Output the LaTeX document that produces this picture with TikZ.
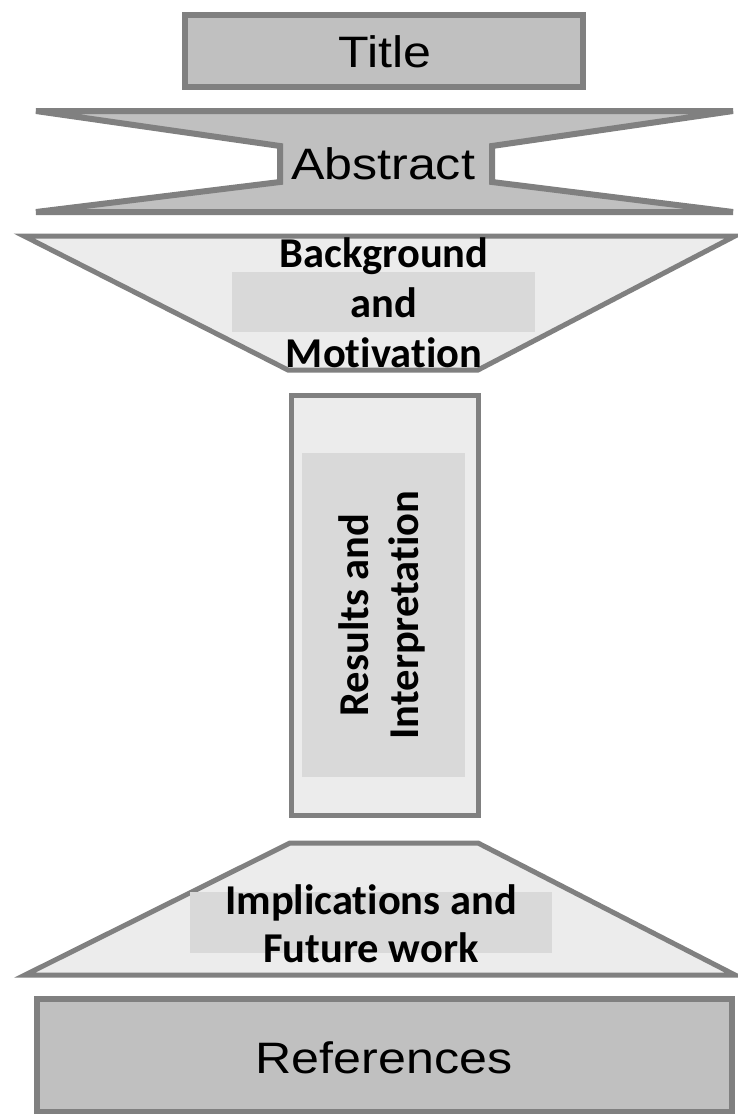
\documentclass[tikz,border=0pt]{standalone}
\usepackage{fontspec}
\setmainfont{Liberation Sans}
\newfontfamily\widesans[FakeStretch=1.14]{Liberation Sans}
\newfontfamily\calfont[Ligatures=CommonOff]{Carlito}
\definecolor{boxgray}{RGB}{192,192,192}
\definecolor{edgegray}{RGB}{128,128,128}
\definecolor{lightfill}{RGB}{236,236,236}
\definecolor{hifill}{RGB}{217,217,217}
\begin{document}
\begin{tikzpicture}[x=1pt,y=-1pt,
  darkshape/.style={fill=boxgray, draw=edgegray, line width=6pt, line join=miter},
  lightshape/.style={fill=lightfill, draw=edgegray, line width=5pt, line join=miter},
  hilite/.style={fill=hifill, draw=none},
  sanslabel/.style={font=\widesans\fontsize{44}{50}\selectfont, text=black, inner sep=0pt},
  boldlabel/.style={font=\calfont\bfseries\fontsize{42.5}{50}\selectfont, align=center, text=black, inner sep=0pt}
]
\useasboundingbox (0,0) rectangle (738,1114);
\fill[white] (0,0) rectangle (738,1114);

% Title
\draw[darkshape] (185,15) rectangle (583,87);
\node[sanslabel] (title) at (385,52) {Title};

% Abstract
\draw[darkshape] (36,111) -- (733,111) -- (492,146) -- (492,182) -- (733,212)
  -- (36,212) -- (280,182) -- (280,146) -- cycle;
\node[sanslabel] (abstract) at (383,164) {Abstract};

% Background and Motivation
\draw[lightshape] (24,236) -- (735,236) -- (478,370) -- (288,370) -- cycle;
\fill[hilite] (232,272) rectangle (535,332);
\node[boldlabel] (background) at (384,303) {Background\\and\\Motivation};

% Results and Interpretation
\draw[lightshape] (291,395) rectangle (478,815);
\fill[hilite] (302,453) rectangle (465,777);
\node[boldlabel, rotate=90] (results) at (382,615) {Results and\\Interpretation};

% Implications and Future work
\draw[lightshape] (290,843) -- (478,843) -- (735,975) -- (25,975) -- cycle;
\fill[hilite] (190,892) rectangle (552,953);
\node[boldlabel, font=\calfont\bfseries\fontsize{42.5}{48}\selectfont] (implications) at (371,924) {Implications and\\Future work};

% References
\draw[darkshape] (37,999) rectangle (732,1112);
\node[sanslabel] (references) at (384,1058) {References};
\end{tikzpicture}
\end{document}
